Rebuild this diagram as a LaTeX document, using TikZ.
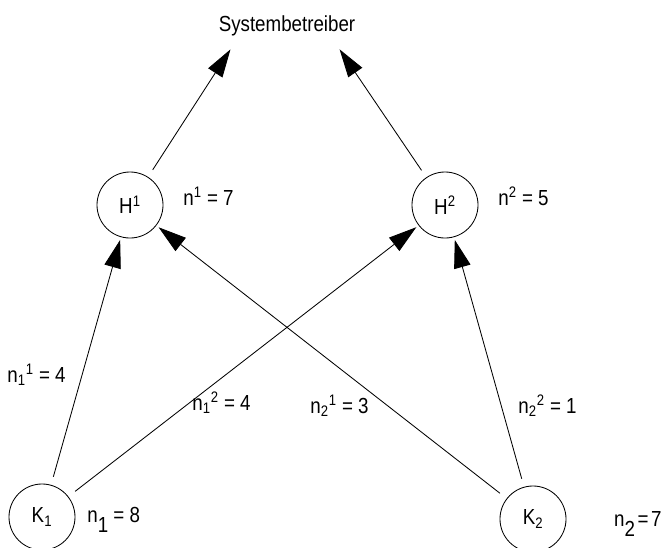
\documentclass[tikz,border=0pt]{standalone}
\usepackage{fontspec}
\setmainfont{Liberation Sans}[FakeStretch=0.86]
\usetikzlibrary{arrows.meta}

\begin{document}
\begin{tikzpicture}[x=0.025cm, y=-0.025cm, line width=0.6pt,
  font=\fontsize{15.5}{18}\selectfont,
  knoten/.style={draw, circle, minimum size=1.65cm, inner sep=0pt},
  pfeil/.style={-{Triangle[length=7mm, width=4.2mm]}, shorten <=6pt, shorten >=2pt},
  wert/.style={anchor=base west, inner sep=0pt}]
  \clip (0,0) rectangle (664,547);
  % Systembetreiber
  \node[anchor=base] (sys) at (287,31) {Systembetreiber};
  \coordinate (sysl) at (232,47);
  \coordinate (sysr) at (338,47);
  % Haendler
  \node[knoten] (h1) at (130,205) {H\textsuperscript{1}};
  \node[knoten] (h2) at (445,205) {H\textsuperscript{2}};
  \node[wert] (w1) at (183,205) {n\textsuperscript{1} = 7};
  \node[wert] (w2) at (498,205) {n\textsuperscript{2} = 5};
  % Kunden
  \node[knoten] (k1) at (42,517) {K\textsubscript{1}};
  \node[knoten] (k2) at (533,519) {K\textsubscript{2}};
  \node[wert] (m1) at (87,522) {n\raisebox{-0.5em}{1} = 8};
  \node[wert, anchor=base east] (m2) at (662,526)
    {n\raisebox{-0.5em}{2}\hspace{0.12em}=\hspace{0.12em}7};
  % Verbindungen
  \draw[pfeil] (h1) -- (sysl);
  \draw[pfeil] (h2) -- (sysr);
  \draw[pfeil] (k1) -- (h1);
  \draw[pfeil] (k1) -- (h2);
  \draw[pfeil] (k2) -- (h1);
  \draw[pfeil] (k2) -- (h2);
  % Kantenwerte
  \node[wert] (e11) at (7,382) {n\textsubscript{1}\textsuperscript{1} = 4};
  \node[wert] (e12) at (192,410) {n\textsubscript{1}\textsuperscript{2} = 4};
  \node[wert] (e21) at (310,413) {n\textsubscript{2}\textsuperscript{1} = 3};
  \node[wert] (e22) at (518,413) {n\textsubscript{2}\textsuperscript{2} = 1};
\end{tikzpicture}
\end{document}
